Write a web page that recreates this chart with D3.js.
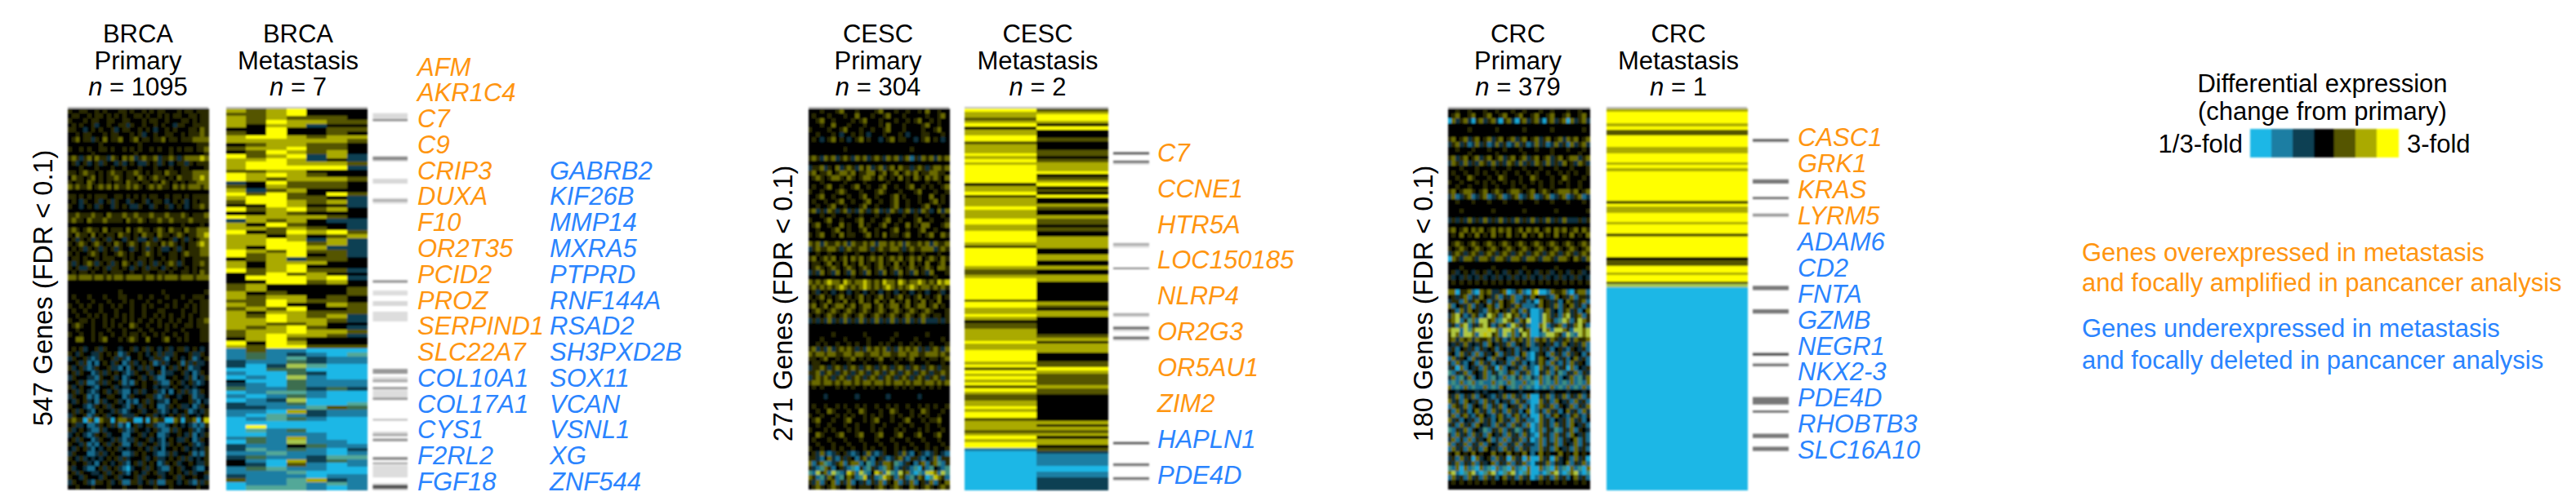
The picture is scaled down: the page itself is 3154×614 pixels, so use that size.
<!DOCTYPE html>
<html>
<head>
<meta charset="utf-8">
<script src="https://cdn.jsdelivr.net/npm/d3@7"></script>
<style>
  body { margin: 0; background: #fff; }
  text { font-family: "Liberation Sans", Arial, sans-serif; }
</style>
</head>
<body>
<div id="chart"></div>
<script>
// Colour codes: 0-6 run from 1/3-fold to 3-fold, 7-9 are the mixed teal/lime/green cells
var levelCodes = ["0", "1", "2", "3", "4", "5", "6", "7", "8", "9"];
var levelColors = ["#1ab7e6", "#1a7ea3", "#0e3f52", "#000000", "#555500", "#aaaa00", "#ffff00", "#52a898", "#a8c850", "#3c6e50"];
// The primary panels sit much closer to black, so their codes read dimmer
var primaryColors = ["#18a8d8", "#146c8e", "#0b3040", "#050500", "#2c2c00", "#6a6a00", "#c4c400", "#3f8f80", "#b0c840", "#2c5840"];
var legendCodes = ["0", "1", "2", "3", "4", "5", "6"];

var brcaPrimary = [
  "433443343433344343343434433343443444",
  "344334344343434334434334343443344344",
  "433343443344334433343443343334434344",
  "343433423343344243343343433244334444",
  "443323434334234433434323343433344354",
  "334344333434433343423343344334344454",
  "345344243534453345344344534434445555",
  "333333334333333333433333333333333444",
  "433434334434334343433434334343443445",
  "333333433333333334333333334333333334",
  "454245354425435452454452445424555565",
  "342342342433242343224342432344243444",
  "333433343334334333433343334334433334",
  "443454434345443445434344354434445555",
  "354434534344543443543454434354445565",
  "434435434343443544344343543434344555",
  "545445345453544545434545443545455545",
  "333333333333333333333333333333333333",
  "443434344433443434343443343443434444",
  "343243342342433243342344323434234344",
  "433234324332434322433243342343234454",
  "333333333333333333333333333333333333",
  "445444544354445445444544454445434445",
  "454435444544443544543445445444454444",
  "333333333333333333333333333334333343",
  "454345443534443534544345435443544555",
  "435443534344354434354435443454344556",
  "342434243424332434223424334234243455",
  "434543454343543454345443545434344565",
  "343424342434243324342434223424344455",
  "434334543433454343345434334434544455",
  "344343343444334343443433434434334444",
  "424345424342435434243424345424334454",
  "434224343424434324342443243433434344",
  "343443433434443343344334434334434354",
  "554555455454554555545545455545554555",
  "333333333333333333333333333333333333",
  "333333333333333333333333333333333333",
  "333333333333343333333333433333333334",
  "343334333433344333433433343334334443",
  "334333433343334343334334333433343344",
  "433434334334343343343433343433434344",
  "343343334333433343343334433334334344",
  "334334343433434343343343434334343344",
  "433443433434334343433434334343343445",
  "345433433434343354334334343433443444",
  "334333433343334333433433343334333344",
  "433433434334334344343343433433433344",
  "335533434533343454335333453343433344",
  "333333333333333333333333333333333333",
  "343423342433323342342432342344234323",
  "432433224343412433432342422433342243",
  "243342124334242133433244213432341234",
  "334241313432431242343412423341424223",
  "423421243342213143242433134243412233",
  "342433124243432124334234122334231243",
  "243332214334231233423421133433241324",
  "334241124243341214343342114342342123",
  "423433213334232233343323223433232333",
  "342432123423421132423342131342421243",
  "243341213344331243334421243323341223",
  "324342314233423121342432213433342132",
  "433321243424332143243431124342231243",
  "342432134332421233423342123233412324",
  "243341243423342224334423234342433234",
  "454405405440455440040454400540445046",
  "342231124342412034234421123432321214",
  "423432114233342124332342114243342123",
  "234321243423331133423431123343241324",
  "342433124332421224334232134322431243",
  "433241213424341134243342124343342123",
  "324342132343423233432423133434232324",
  "243331124234331124343321124233341214",
  "432423232343424233342342234342423234",
  "343342313432342134243431243423343224",
  "423321134243421023342432114342332113",
  "342433223424342134324342234343242334",
  "433243332433423334243334233424334332",
  "243342144342341144234241144323421424",
  "334333433343334333433343334333333433"
];

var brcaMetastasis = [
  "5456333", "4456333", "5454443", "5465544", "5355233", "3363344", "4363343", "5665455",
  "5555554", "3455443", "4556443", "3465453", "6456252", "5565232", "5665554", "5666662",
  "4455333", "6565433", "6545554", "2364443", "4354443", "5245333", "6464364", "5664432",
  "4665452", "3365332", "6456453", "3354333", "6555543", "2545322", "5364332", "5545432",
  "6346564", "5535345", "5565252", "5566452", "5366522", "6546442", "6456342", "3452443",
  "5355533", "5356333", "6456442", "3464533", "3666562", "3366453", "4533333", "4533334",
  "5343334", "5455343", "4465443", "5463354", "4546334", "5355444", "5465452", "5565542",
  "5544533", "5456432", "4556554", "4565542", "3564333", "6365333", "5466444",
  "1411000", "1912107", "1917211", "2119211", "2028700", "0099000", "1009200", "0108100",
  "3009111", "2109111", "9119292", "0177100", "1019100", "0128000", "2119007", "2211749",
  "1105211", "1071211", "0179100", "0000000", "0600000", "0719000", "0011100", "1915100",
  "0918110", "2113911", "2719102", "1171101", "2911277", "3105291", "3204101", "1971100",
  "1117000", "2111011", "4117521", "0117171", "0777101"
];

var cescPrimary = [
  "333433345333433334533343343343533433",
  "343334333433533343345333433333433453",
  "334533433334345333433343343453343433",
  "333433533343334333435333433334533433",
  "433334334533343343345333433334334533",
  "334333432334343233343334323334433343",
  "343234534323453433234534433234534323",
  "333333333333333333333333333333333333",
  "333333333433333333333333334333333333",
  "333333333333333333333333333333333333",
  "454254524542545245425452451425452545",
  "333333333333333333333333333333333333",
  "244524352454253524524535442454245545",
  "453445345545344553453453454534455443",
  "345434554354345543543435343543545435",
  "333433333433334333334333343333433433",
  "343345334334533433453343345334343345",
  "433433345433343334543334333453334334",
  "334533433343345334333453433343353343",
  "343343345334334533433453343343345343",
  "334334533433345334333453343334533433",
  "452425424524254245242542452425423525",
  "333433433343343334334333433433433343",
  "433345334333453343345334333453343334",
  "345334335343353433453343353435533345",
  "334333453343345334333453343345334333",
  "434533435344334534353443453343453354",
  "333333333333333333333333333333333333",
  "545254454525445452554545254454525445",
  "245445542454455424544554245445552454",
  "334334333433433343343334334334333433",
  "453454534535453454534545345453454354",
  "344345343534353434534353435343533453",
  "345434543454345434543454345434543554",
  "242534253425342534253425342534253334",
  "333333333334333333333334333333334333",
  "545456554654556545465546545565454656",
  "454545456545456545456545456545545454",
  "342343234323432343234323432343233423",
  "434534345343453434534345343453434534",
  "343435343534353435343534353435343533",
  "453453455345345534534553453455345343",
  "345434543454345434543454345434543334",
  "434345434543454345434543454345434434",
  "242425242524252425242524252425222424",
  "333333333333333333333333333333333333",
  "333333333333333333333333333333333333",
  "333333433333334333333343333333433333",
  "333433333433333433333433333433333343",
  "334343343343433433434334334343343334",
  "452425245454242545452425454524245425",
  "545545544554554455455445545544555454",
  "443453343445343434533434345334344345",
  "344333433343334333433343334333433343",
  "244542454245424542454245424542454244",
  "445245424542454245424542454245424454",
  "245454245424542454245424542454245424",
  "455455454554545545545455454554554545",
  "343433343434334343433343434334343433",
  "333333333333333333333333333333333333",
  "333323333333233333332333333323333333",
  "333333333333333333333333333333333333",
  "343343343433434334334343343343434334",
  "334335433343354333433543334335433343",
  "433433343434334343433434334343433433",
  "345333433453334345333433453334344533",
  "334334333433433343343334334333433433",
  "433343433343433343433343433343433343",
  "335433345333453334533345333453334533",
  "343334333433343334333433343334333433",
  "334333433343334333433343334333433343",
  "433433434334334343343343433433434334",
  "342521243421232521243342521342124321",
  "442135214243145213421245214421325144",
  "514571245145513714255471243145145714",
  "421754134217041742175412421704173217",
  "718451871265187136518718451071865187",
  "541725417354176241765415417254076541",
  "425143514251324142514351425134251435",
  "345434543354344434543454335434543454"
];

var cescMetastasis = [
  "64", "55", "56", "46", "55", "63", "36", "53", "53", "63", "64", "43", "53", "53", "54", "64",
  "53", "64", "55", "65", "65", "66", "63", "64", "65", "36", "53", "54", "63", "36", "53", "53",
  "55", "64", "53", "53", "55", "64", "64", "53", "54", "63", "63", "65", "65", "55", "35", "63",
  "63", "65", "65", "63", "63", "55", "43", "43", "55", "65", "63", "63", "63", "63", "63", "63",
  "43", "65", "64", "53", "55", "65", "53", "33", "43", "43", "53", "53", "54", "55", "63", "55",
  "55", "65", "63", "63", "63", "54", "64", "46", "65", "54", "64", "54", "64", "45", "64", "54",
  "43", "43", "53", "53", "63", "53", "63", "63", "43", "55", "53", "55", "44", "55", "63", "55",
  "65", "63", "14", "02", "01", "01", "01", "01", "00", "00", "01", "01", "02", "02", "02", "02"
];

var crcPrimary = [
  "334334333433433343343334334333433433",
  "345334533453345334533453345334533453",
  "052452045245204520452452045245052452",
  "333333333333333333333333333333333333",
  "333334333333433333343333334333333343",
  "333333333333333333333333333333333333",
  "453452453452453452453452453452545345",
  "245241252412524125241252412524152452",
  "334333433343334333433343334333433343",
  "333334333333433333343333334333333433",
  "452453452453452453452453452453455245",
  "254252425425242542524254252425342542",
  "333433343334333433343334333433343334",
  "343343343433434334334343343343434334",
  "334335433343354333433543334335433343",
  "433433343434334343433434334343433433",
  "334334333433433343343334334333433433",
  "453455434534543455434534543455545345",
  "251245124512451245124512451245124512",
  "334333433343334333433343334333433343",
  "333333333333333333333333333333333333",
  "333433333334333333343333333433333334",
  "333333333333333333333333333333333333",
  "242425242524252425242524252425222424",
  "333333333333333333333333333333333333",
  "453453545345354534535453453545345354",
  "343534353435343534353435343534353435",
  "333333333333333333333333333333333333",
  "345434543454345434543454345434543454",
  "434543454345434543454345434543454345",
  "245424542454245424542454245424542454",
  "054255425542554255425542554255435425",
  "333333333333333333333333333333333333",
  "333433333334333333343333333433333334",
  "342343243423432434234324342343243423",
  "423242324232423242324232423242324232",
  "343434343434343434343434343434343434",
  "333333333333333333333333333333333333",
  "550445105452245014510560015445104551",
  "342451425342514251142534421534251442",
  "244152453414253451241205342413542451",
  "513425142354153425411125342514352414",
  "341525342154534254152001452314524135",
  "258412541285415845214001852415824514",
  "458147518845178541548001854178514854",
  "241581425841254185241005812451425841",
  "588187588868518851845002851885418858",
  "485188518684518751485001788541871858",
  "452545254452541254525154525424525445",
  "324252324153242514325124324125324251",
  "241342414234143241423114241342143241",
  "431524151423514241351024315241524314",
  "152431524315243115241025431524135241",
  "415213415241324152413125415214152431",
  "240513241524051324152105241524051324",
  "714251432514271451425104251471425142",
  "251725132517215172517215172513251725",
  "171517517115171571151705171517151715",
  "517151711517153171517101715171517151",
  "332333323233323333233323332333233323",
  "425142514321425152415004251425142514",
  "524153241524132415241005241532415241",
  "154251432514251342514015425143251425",
  "415241352415241524135014152413524152",
  "251452145321452145214005214532145214",
  "524132415241352415241105241324152413",
  "241524153241524152415015241524153241",
  "714251432714251427142015142714251432",
  "415241524153241524152105241524153241",
  "251415142351415142514015141514235141",
  "514251425143251425142215142514325142",
  "152415241532415241524115241532415241",
  "435343534335343534353135343353435343",
  "241524052341524052405005240523415240",
  "425142514235142514251024251423514251",
  "715051705170517051705005170517051705",
  "581075810758107581075001075810758107",
  "152415241524135241524015241524135241",
  "343434343434334343434334343434334343",
  "333333333333333333333333333333333333"
];

var crcMetastasis = [
  "5", "6", "6", "6", "6", "5", "6", "4", "4", "6", "6", "6", "6", "5", "5", "6",
  "6", "6", "5", "6", "5", "6", "6", "6", "6", "6", "6", "6", "6", "6", "6", "4",
  "6", "5", "5", "6", "6", "6", "5", "6", "6", "6", "4", "6", "6", "6", "6", "6",
  "6", "6", "3", "4", "4", "6", "6", "5", "6", "6", "4", "8", "0", "0", "0", "0",
  "0", "0", "0", "0", "0", "0", "0", "0", "0", "0", "0", "0", "0", "0", "0", "0",
  "0", "0", "0", "0", "0", "0", "0", "0", "0", "0", "0", "0", "0", "0", "0", "0",
  "0", "0", "0", "0", "0", "0", "0", "0", "0", "0", "0", "0", "0", "0", "0", "0",
  "0", "0", "0", "0", "0", "0", "0", "0", "0", "0", "0", "0", "0", "0", "0", "0"
];

// Gene rank (from the top), rank span, grey of the tick
var brcaTicks = [
  [9, 12, "#dadada"], [17.5, 2.5, "#808080"], [70, 8, "#dddddd"], [71, 5, "#888888"], [102.5, 7, "#d8d8d8"],
  [130, 8, "#dddddd"], [132, 3, "#aaaaaa"], [247.3, 3.5, "#909090"], [262, 7, "#dddddd"], [277, 7, "#d8d8d8"],
  [292, 14, "#dddddd"], [373.7, 7, "#999999"], [385, 8, "#dddddd"], [389, 3.5, "#aaaaaa"], [399.5, 3.5, "#999999"],
  [404, 10.5, "#dddddd"], [414.5, 3.5, "#999999"], [445, 2.5, "#bbbbbb"], [463, 7, "#dddddd"], [466, 3.5, "#aaaaaa"],
  [473, 4, "#999999"], [499.5, 4, "#888888"], [507, 3, "#aaaaaa"], [511, 17.5, "#dddddd"], [536.5, 10.5, "#dddddd"],
  [539, 6, "#555555"]
];
var cescTicks = [
  [32, 1.6, "#555555"], [37.8, 3, "#dddddd"], [38, 1.6, "#666666"], [96, 3.5, "#dddddd"], [96.4, 1.6, "#aaaaaa"],
  [113.5, 1.2, "#888888"], [145.5, 3, "#dddddd"], [146, 1.6, "#aaaaaa"], [154.8, 4, "#dddddd"], [155.5, 1.6, "#555555"],
  [161.8, 3.5, "#dddddd"], [162.5, 1.6, "#555555"], [236.8, 1.6, "#555555"], [251.4, 3, "#dddddd"], [252, 1.6, "#666666"],
  [261.2, 3, "#dddddd"], [261.8, 1.6, "#666666"]
];
var crcTicks = [
  [14.8, 2, "#dddddd"], [15.2, 1, "#333333"], [34, 2, "#777777"], [42.3, 1, "#666666"], [49.8, 2, "#dddddd"],
  [50.3, 1, "#888888"], [84, 2, "#777777"], [95, 2, "#777777"], [115, 2, "#dddddd"], [115.6, 1, "#000000"],
  [120, 2, "#dddddd"], [120.6, 1, "#555555"], [136.2, 3.5, "#777777"], [142.5, 1, "#666666"], [153.4, 2, "#777777"],
  [159.5, 2, "#777777"]
];

var brcaGenesLeft = ["AFM", "AKR1C4", "C7", "C9", "CRIP3", "DUXA", "F10", "OR2T35", "PCID2", "PROZ", "SERPIND1", "SLC22A7"];
var brcaGenesLeftDown = ["COL10A1", "COL17A1", "CYS1", "F2RL2", "FGF18"];
var brcaGenesRight = ["GABRB2", "KIF26B", "MMP14", "MXRA5", "PTPRD", "RNF144A", "RSAD2", "SH3PXD2B", "SOX11", "VCAN", "VSNL1", "XG", "ZNF544"];
var cescGenesUp = ["C7", "CCNE1", "HTR5A", "LOC150185", "NLRP4", "OR2G3", "OR5AU1", "ZIM2"];
var cescGenesDown = ["HAPLN1", "PDE4D"];
var crcGenesUp = ["CASC1", "GRK1", "KRAS", "LYRM5"];
var crcGenesDown = ["ADAM6", "CD2", "FNTA", "GZMB", "NEGR1", "NKX2-3", "PDE4D", "RHOBTB3", "SLC16A10"];

var svgWidth = 3154;
var svgHeight = 614;
var orange = "#ff9510";
var blue = "#2a84ff";
var fontSize = 31;
var heatTop = 133;
var heatBottom = 600;

var svg = d3.select("#chart")
  .append("svg")
  .attr("width", svgWidth)
  .attr("height", svgHeight)
  .style("display", "block");

// The picture is a soft raster, so the heat cells get a slight blur
svg.append("defs").append("filter")
  .attr("id", "soft")
  .attr("x", "-5%").attr("y", "-5%").attr("width", "110%").attr("height", "110%")
  .append("feGaussianBlur")
  .attr("stdDeviation", 0.9);

var colorScale = d3.scaleOrdinal().domain(levelCodes).range(levelColors);
var primaryScale = d3.scaleOrdinal().domain(levelCodes).range(primaryColors);

// Draw one heat panel from its rows of colour codes
function drawHeat(rows, x0, x1, fill) {
  var nCols = rows[0].length;
  var xScaler = d3.scaleBand().domain(d3.range(nCols)).range([x0, x1]);
  var yScaler = d3.scaleBand().domain(d3.range(rows.length)).range([heatTop, heatBottom]);

  var group = svg.append("g").attr("filter", "url(#soft)").attr("shape-rendering", "crispEdges");

  group.append("rect")
    .attr("x", x0).attr("y", heatTop - 2.5)
    .attr("width", x1 - x0).attr("height", 3)
    .attr("fill", "#bdbdbd");

  group.append("rect")
    .attr("x", x0).attr("y", heatTop)
    .attr("width", x1 - x0).attr("height", heatBottom - heatTop)
    .attr("fill", "#000");

  var rowGroups = group.selectAll("g.row")
    .data(rows)
    .enter()
    .append("g")
    .attr("class", "row")
    .attr("transform", (d, i) => `translate(0, ${yScaler(i)})`);

  rowGroups.selectAll("rect")
    .data(d => d.split("").slice(0, nCols))
    .enter()
    .append("rect")
    .attr("x", (d, i) => xScaler(i))
    .attr("width", xScaler.bandwidth() + 0.5)
    .attr("height", yScaler.bandwidth() + 0.5)
    .attr("fill", d => fill(d));
}

// Draw the grey gene ticks right of a metastasis panel
function drawTicks(ticks, nGenes, x0, x1) {
  var yScaler = d3.scaleLinear().domain([0, nGenes]).range([131, 601]);

  svg.append("g")
    .attr("filter", "url(#soft)")
    .selectAll("rect")
    .data(ticks)
    .enter()
    .append("rect")
    .attr("x", x0)
    .attr("width", x1 - x0)
    .attr("y", d => yScaler(d[0]))
    .attr("height", d => yScaler(d[1]) - yScaler(0))
    .attr("fill", d => d[2]);
}

// Three line header above a panel, with the n in italics
function drawHeader(cx, name, kind, n) {
  var group = svg.append("g")
    .attr("text-anchor", "middle")
    .attr("font-size", fontSize)
    .attr("fill", "#000");
  group.append("text").attr("x", cx).attr("y", 52).text(name);
  group.append("text").attr("x", cx).attr("y", 85).text(kind);
  var last = group.append("text").attr("x", cx).attr("y", 117);
  last.append("tspan").attr("font-style", "italic").text("n");
  last.append("tspan").text(" = " + n);
}

function drawYLabel(x, y, label) {
  svg.append("text")
    .attr("transform", `translate(${x}, ${y}) rotate(-90)`)
    .attr("text-anchor", "middle")
    .attr("font-size", 32.5)
    .attr("fill", "#000")
    .text(label);
}

// A column of italic gene names on an even step
function drawGenes(genes, x, firstBaseline, step, color) {
  svg.append("g")
    .selectAll("text")
    .data(genes)
    .enter()
    .append("text")
    .attr("x", x)
    .attr("y", (d, i) => firstBaseline + i * step)
    .attr("font-size", fontSize)
    .attr("font-style", "italic")
    .attr("fill", color)
    .text(d => d);
}

// BRCA
drawHeader(169, "BRCA", "Primary", "1095");
drawHeader(365, "BRCA", "Metastasis", "7");
drawYLabel(64, 353, "547 Genes (FDR < 0.1)");
drawHeat(brcaPrimary, 83, 255, primaryScale);
drawHeat(brcaMetastasis, 276.5, 449.5, colorScale);
drawTicks(brcaTicks, 547, 456.5, 499);
drawGenes(brcaGenesLeft, 511, 92.5, 31.78, orange);
drawGenes(brcaGenesLeftDown, 511, 92.5 + 12 * 31.78, 31.78, blue);
drawGenes(brcaGenesRight, 673, 92.5 + 4 * 31.78, 31.78, blue);

// CESC
drawHeader(1075, "CESC", "Primary", "304");
drawHeader(1270.5, "CESC", "Metastasis", "2");
drawYLabel(970, 372, "271 Genes (FDR < 0.1)");
drawHeat(cescPrimary, 989.5, 1162, primaryScale);
drawHeat(cescMetastasis, 1181, 1356.5, colorScale);
drawTicks(cescTicks, 271, 1363, 1407);
drawGenes(cescGenesUp, 1417, 197.7, 43.9, orange);
drawGenes(cescGenesDown, 1417, 197.7 + 8 * 43.9, 43.9, blue);

// CRC
drawHeader(1858.5, "CRC", "Primary", "379");
drawHeader(2055, "CRC", "Metastasis", "1");
drawYLabel(1754, 372, "180 Genes (FDR < 0.1)");
drawHeat(crcPrimary, 1772.5, 1946.5, primaryScale);
drawHeat(crcMetastasis, 1967, 2139, colorScale);
drawTicks(crcTicks, 180, 2146, 2190);
drawGenes(crcGenesUp, 2201, 179.3, 31.9, orange);
drawGenes(crcGenesDown, 2201, 179.3 + 4 * 31.9, 31.9, blue);

// Colour legend
var legendScale = d3.scaleBand().domain(legendCodes).range([2755, 2936]);
svg.append("g")
  .attr("filter", "url(#soft)")
  .attr("shape-rendering", "crispEdges")
  .selectAll("rect")
  .data(legendCodes)
  .enter()
  .append("rect")
  .attr("x", d => legendScale(d))
  .attr("y", 158)
  .attr("width", legendScale.bandwidth() + 0.5)
  .attr("height", 35)
  .attr("fill", d => colorScale(d));

svg.append("text").attr("x", 2843.5).attr("y", 113).attr("text-anchor", "middle")
  .attr("font-size", fontSize).text("Differential expression");
svg.append("text").attr("x", 2843.5).attr("y", 147).attr("text-anchor", "middle")
  .attr("font-size", fontSize).text("(change from primary)");
svg.append("text").attr("x", 2746).attr("y", 187).attr("text-anchor", "end")
  .attr("font-size", fontSize).text("1/3-fold");
svg.append("text").attr("x", 2947).attr("y", 187)
  .attr("font-size", fontSize).text("3-fold");

// Notes on the gene name colours
var notes = [
  ["Genes overexpressed in metastasis", 320, orange],
  ["and focally amplified in pancancer analysis", 356.7, orange],
  ["Genes underexpressed in metastasis", 413, blue],
  ["and focally deleted in pancancer analysis", 451.7, blue]
];
svg.append("g")
  .selectAll("text")
  .data(notes)
  .enter()
  .append("text")
  .attr("x", 2549)
  .attr("y", d => d[1])
  .attr("font-size", fontSize)
  .attr("fill", d => d[2])
  .text(d => d[0]);
</script>
</body>
</html>
